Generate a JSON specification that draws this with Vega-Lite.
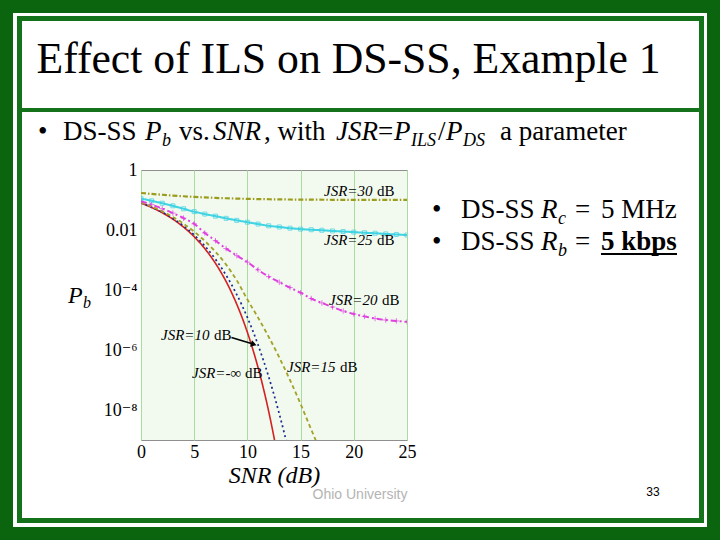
{
  "$schema": "https://vega.github.io/schema/vega-lite/v6.json",
  "width": 266,
  "height": 270,
  "autosize": {"type": "none"},
  "padding": {"left": 141, "top": 170, "right": 313, "bottom": 100},
  "background": "white",
  "config": {
    "view": {"fill": "#f2faf0", "stroke": "#8f8f8f", "strokeWidth": 1},
    "text": {"font": "Liberation Serif", "color": "black", "baseline": "alphabetic", "align": "left"}
  },
  "datasets": {
    "curves": [
      {"jsr": "-inf", "snr": 0, "pb": 0.0786}, {"jsr": "-inf", "snr": 1, "pb": 0.0563}, {"jsr": "-inf", "snr": 2, "pb": 0.0375}, {"jsr": "-inf", "snr": 3, "pb": 0.0229}, {"jsr": "-inf", "snr": 4, "pb": 0.0125}, {"jsr": "-inf", "snr": 5, "pb": 0.00595}, {"jsr": "-inf", "snr": 6, "pb": 0.00239}, {"jsr": "-inf", "snr": 7, "pb": 0.000773}, {"jsr": "-inf", "snr": 8, "pb": 0.000191}, {"jsr": "-inf", "snr": 8.5, "pb": 0.000084}, {"jsr": "-inf", "snr": 9, "pb": 0.0000336}, {"jsr": "-inf", "snr": 9.5, "pb": 0.0000121}, {"jsr": "-inf", "snr": 10, "pb": 0.00000387}, {"jsr": "-inf", "snr": 10.5, "pb": 0.00000108}, {"jsr": "-inf", "snr": 11, "pb": 2.61e-7}, {"jsr": "-inf", "snr": 11.5, "pb": 5.33e-8}, {"jsr": "-inf", "snr": 12, "pb": 9.0e-9}, {"jsr": "-inf", "snr": 12.5, "pb": 1.23e-9}, {"jsr": "-inf", "snr": 13, "pb": 1.34e-10},
      {"jsr": "10", "snr": 0, "pb": 0.0799}, {"jsr": "10", "snr": 1, "pb": 0.0577}, {"jsr": "10", "snr": 2, "pb": 0.0389}, {"jsr": "10", "snr": 3, "pb": 0.0242}, {"jsr": "10", "snr": 4, "pb": 0.01363}, {"jsr": "10", "snr": 5, "pb": 0.0068}, {"jsr": "10", "snr": 6, "pb": 0.00293}, {"jsr": "10", "snr": 7, "pb": 0.00106}, {"jsr": "10", "snr": 8, "pb": 0.00031}, {"jsr": "10", "snr": 8.5, "pb": 0.000153}, {"jsr": "10", "snr": 9, "pb": 0.0000707}, {"jsr": "10", "snr": 9.5, "pb": 0.0000304}, {"jsr": "10", "snr": 10, "pb": 0.0000121}, {"jsr": "10", "snr": 10.5, "pb": 0.00000444}, {"jsr": "10", "snr": 11, "pb": 0.00000149}, {"jsr": "10", "snr": 11.5, "pb": 4.57e-7}, {"jsr": "10", "snr": 12, "pb": 1.28e-7}, {"jsr": "10", "snr": 12.5, "pb": 3.22e-8}, {"jsr": "10", "snr": 13, "pb": 7.36e-9}, {"jsr": "10", "snr": 13.5, "pb": 1.51e-9}, {"jsr": "10", "snr": 14, "pb": 2.8e-10},
      {"jsr": "15", "snr": 0, "pb": 0.0826}, {"jsr": "15", "snr": 1, "pb": 0.0606}, {"jsr": "15", "snr": 2, "pb": 0.042}, {"jsr": "15", "snr": 3, "pb": 0.0271}, {"jsr": "15", "snr": 4, "pb": 0.0162}, {"jsr": "15", "snr": 5, "pb": 0.0088}, {"jsr": "15", "snr": 6, "pb": 0.0043}, {"jsr": "15", "snr": 7, "pb": 0.00188}, {"jsr": "15", "snr": 8, "pb": 0.0007}, {"jsr": "15", "snr": 9, "pb": 0.00021}, {"jsr": "15", "snr": 10, "pb": 0.000048}, {"jsr": "15", "snr": 11, "pb": 0.000012}, {"jsr": "15", "snr": 12, "pb": 0.00000275}, {"jsr": "15", "snr": 13, "pb": 5.6e-7}, {"jsr": "15", "snr": 14, "pb": 1.0e-7}, {"jsr": "15", "snr": 15, "pb": 1.58e-8}, {"jsr": "15", "snr": 16, "pb": 2.24e-9}, {"jsr": "15", "snr": 17, "pb": 3.16e-10},
      {"jsr": "20", "snr": 0, "pb": 0.0909}, {"jsr": "20", "snr": 1, "pb": 0.0698}, {"jsr": "20", "snr": 2, "pb": 0.0516}, {"jsr": "20", "snr": 3, "pb": 0.0366}, {"jsr": "20", "snr": 4, "pb": 0.0249}, {"jsr": "20", "snr": 5, "pb": 0.016}, {"jsr": "20", "snr": 6, "pb": 0.008}, {"jsr": "20", "snr": 7, "pb": 0.0044}, {"jsr": "20", "snr": 8, "pb": 0.0024}, {"jsr": "20", "snr": 9, "pb": 0.0014}, {"jsr": "20", "snr": 10, "pb": 0.00085}, {"jsr": "20", "snr": 11, "pb": 0.00047}, {"jsr": "20", "snr": 12, "pb": 0.00028}, {"jsr": "20", "snr": 13, "pb": 0.000182}, {"jsr": "20", "snr": 14, "pb": 0.00012}, {"jsr": "20", "snr": 15, "pb": 0.000081}, {"jsr": "20", "snr": 16, "pb": 0.000052}, {"jsr": "20", "snr": 17, "pb": 0.000037}, {"jsr": "20", "snr": 18, "pb": 0.000027}, {"jsr": "20", "snr": 19, "pb": 0.00002}, {"jsr": "20", "snr": 20, "pb": 0.0000158}, {"jsr": "20", "snr": 21, "pb": 0.0000132}, {"jsr": "20", "snr": 22, "pb": 0.0000112}, {"jsr": "20", "snr": 23, "pb": 0.00001}, {"jsr": "20", "snr": 24, "pb": 0.0000093}, {"jsr": "20", "snr": 25, "pb": 0.0000087},
      {"jsr": "25", "snr": 0, "pb": 0.112}, {"jsr": "25", "snr": 1, "pb": 0.094}, {"jsr": "25", "snr": 2, "pb": 0.078}, {"jsr": "25", "snr": 3, "pb": 0.064}, {"jsr": "25", "snr": 4, "pb": 0.051}, {"jsr": "25", "snr": 5, "pb": 0.041}, {"jsr": "25", "snr": 6, "pb": 0.034}, {"jsr": "25", "snr": 7, "pb": 0.029}, {"jsr": "25", "snr": 8, "pb": 0.0245}, {"jsr": "25", "snr": 9, "pb": 0.021}, {"jsr": "25", "snr": 10, "pb": 0.0182}, {"jsr": "25", "snr": 11, "pb": 0.0158}, {"jsr": "25", "snr": 12, "pb": 0.0138}, {"jsr": "25", "snr": 13, "pb": 0.0126}, {"jsr": "25", "snr": 14, "pb": 0.0115}, {"jsr": "25", "snr": 15, "pb": 0.0107}, {"jsr": "25", "snr": 16, "pb": 0.0102}, {"jsr": "25", "snr": 17, "pb": 0.0098}, {"jsr": "25", "snr": 18, "pb": 0.0093}, {"jsr": "25", "snr": 19, "pb": 0.0089}, {"jsr": "25", "snr": 20, "pb": 0.0085}, {"jsr": "25", "snr": 21, "pb": 0.0081}, {"jsr": "25", "snr": 22, "pb": 0.0078}, {"jsr": "25", "snr": 23, "pb": 0.0074}, {"jsr": "25", "snr": 24, "pb": 0.0071}, {"jsr": "25", "snr": 25, "pb": 0.0068},
      {"jsr": "30", "snr": 0, "pb": 0.171}, {"jsr": "30", "snr": 1, "pb": 0.1595}, {"jsr": "30", "snr": 2, "pb": 0.1494}, {"jsr": "30", "snr": 3, "pb": 0.1405}, {"jsr": "30", "snr": 4, "pb": 0.1331}, {"jsr": "30", "snr": 5, "pb": 0.1269}, {"jsr": "30", "snr": 6, "pb": 0.1218}, {"jsr": "30", "snr": 7, "pb": 0.1176}, {"jsr": "30", "snr": 8, "pb": 0.1142}, {"jsr": "30", "snr": 9, "pb": 0.1114}, {"jsr": "30", "snr": 10, "pb": 0.1092}, {"jsr": "30", "snr": 12, "pb": 0.1059}, {"jsr": "30", "snr": 14, "pb": 0.1038}, {"jsr": "30", "snr": 16, "pb": 0.1025}, {"jsr": "30", "snr": 18, "pb": 0.1017}, {"jsr": "30", "snr": 20, "pb": 0.1012}, {"jsr": "30", "snr": 22, "pb": 0.1008}, {"jsr": "30", "snr": 25, "pb": 0.1004}
    ]
  },
  "layer": [
    {
      "data": {"values": [{"part": "slide border"}]},
      "mark": {"type": "rect", "fill": "transparent", "stroke": "#0b650f", "strokeWidth": 26},
      "encoding": {
        "x": {"datum": -13.252, "type": "quantitative"}, "x2": {"datum": 54.417},
        "y": {"datum": 464159, "type": "quantitative"}, "y2": {"datum": 4.642e-13}
      }
    },
    {
      "data": {"values": [{"part": "panel border"}]},
      "mark": {"type": "rect", "fill": "transparent", "stroke": "#14731a", "strokeWidth": 5},
      "encoding": {
        "x": {"datum": -11.419, "type": "quantitative"}, "x2": {"datum": 52.68},
        "y": {"datum": 112202, "type": "quantitative"}, "y2": {"datum": 2.074e-12}
      }
    },
    {
      "data": {"values": [{"part": "title separator"}]},
      "mark": {"type": "rule", "stroke": "#14731a", "strokeWidth": 4},
      "encoding": {
        "x": {"datum": -11.184, "type": "quantitative"}, "x2": {"datum": 52.44},
        "y": {"datum": 100, "type": "quantitative"}
      }
    },
    {
      "data": {"name": "curves"},
      "mark": {"type": "line", "clip": true, "interpolate": "monotone"},
      "encoding": {
        "x": {
          "field": "snr", "type": "quantitative",
          "scale": {"domain": [0, 25], "nice": false, "zero": false},
          "axis": {
            "values": [0, 5, 10, 15, 20, 25], "grid": true, "gridColor": "#a8dda0", "domain": false, "ticks": false,
            "labelFont": "Liberation Serif", "labelFontSize": 18, "labelColor": "black", "labelPadding": 3, "labelFlush": false,
            "title": "SNR (dB)", "titleFont": "Liberation Serif", "titleFontSize": 24, "titleFontStyle": "italic",
            "titleFontWeight": "normal", "titleColor": "black", "titlePadding": 2
          }
        },
        "y": {
          "field": "pb", "type": "quantitative",
          "scale": {"type": "log", "domain": [1e-9, 1], "nice": false},
          "axis": {
            "title": null, "domain": false, "ticks": false, "labelOverlap": false, "labelFlush": false,
            "labelFont": "Liberation Serif, DejaVu Serif", "labelFontSize": 18, "labelColor": "black", "labelPadding": 4,
            "values": [1e-9, 2e-9, 3e-9, 4e-9, 5e-9, 6e-9, 7e-9, 8e-9, 9e-9, 1e-8, 2e-8, 3e-8, 4e-8, 5e-8, 6e-8, 7e-8, 8e-8, 9e-8, 1e-7, 2e-7, 3e-7, 4e-7, 5e-7, 6e-7, 7e-7, 8e-7, 9e-7, 1e-6, 2e-6, 3e-6, 4e-6, 5e-6, 6e-6, 7e-6, 8e-6, 9e-6, 1e-5, 2e-5, 3e-5, 4e-5, 5e-5, 6e-5, 7e-5, 8e-5, 9e-5, 1e-4, 2e-4, 3e-4, 4e-4, 5e-4, 6e-4, 7e-4, 8e-4, 9e-4, 0.001, 0.002, 0.003, 0.004, 0.005, 0.006, 0.007, 0.008, 0.009, 0.01, 0.02, 0.03, 0.04, 0.05, 0.06, 0.07, 0.08, 0.09, 0.1, 0.2, 0.3, 0.4, 0.5, 0.6, 0.7, 0.8, 0.9, 1],
            "labelExpr": "datum.value == 1 ? '1' : datum.value == 0.01 ? '0.01' : datum.value == 0.0001 ? '10⁻⁴' : datum.value == 0.000001 ? '10⁻⁶' : datum.value == 0.00000001 ? '10⁻⁸' : ''",
            "gridColor": {"condition": {"test": "datum.value == 1 || datum.value == 0.1 || datum.value == 0.01 || datum.value == 0.001 || datum.value == 0.0001 || datum.value == 0.00001 || datum.value == 0.000001 || datum.value == 0.0000001 || datum.value == 0.00000001 || datum.value == 0.000000001", "value": "#5c5c5c"}, "value": "#b3e2ab"}
          }
        },
        "color": {"field": "jsr", "type": "nominal", "legend": null,
          "scale": {"domain": ["-inf", "10", "15", "20", "25", "30"], "range": ["#d42020", "#1e2a8c", "#a3a32a", "#e040e0", "#40d4e4", "#9c9c1c"]}},
        "strokeDash": {"field": "jsr", "type": "nominal", "legend": null,
          "scale": {"domain": ["-inf", "10", "15", "20", "25", "30"], "range": [[1, 0], [2, 3], [4, 3], [6, 3, 2, 3], [1, 0], [5, 2, 1.5, 2]]}},
        "size": {"field": "jsr", "type": "ordinal", "legend": null,
          "scale": {"domain": ["-inf", "10", "15", "20", "25", "30"], "range": [1.6, 2.2, 1.4, 1.5, 2.2, 2.6]}}
      }
    },
    {
      "data": {"name": "curves"},
      "transform": [{"filter": "datum.jsr == '25'"}],
      "mark": {"type": "point", "shape": "square", "filled": false, "size": 16, "strokeWidth": 1, "color": "#3ccfe0", "clip": true},
      "encoding": {
        "x": {"field": "snr", "type": "quantitative"},
        "y": {"field": "pb", "type": "quantitative"}
      }
    },
    {
      "data": {"name": "curves"},
      "transform": [{"filter": "datum.jsr == '20'"}],
      "mark": {"type": "point", "shape": "M-1,0H1M0,-1V1", "filled": false, "size": 30, "strokeWidth": 1, "color": "#e040e0", "clip": true},
      "encoding": {
        "x": {"field": "snr", "type": "quantitative"},
        "y": {"field": "pb", "type": "quantitative"}
      }
    },
    {
      "data": {"values": [{"t": "JSR=30"}]},
      "mark": {"type": "text", "fontStyle": "italic", "fontSize": 15},
      "encoding": {"text": {"field": "t"}, "x": {"datum": 17.199, "type": "quantitative"}, "y": {"datum": 0.1359, "type": "quantitative"}}
    },
    {
      "data": {"values": [{"t": "JSR=25"}]},
      "mark": {"type": "text", "fontStyle": "italic", "fontSize": 15},
      "encoding": {"text": {"field": "t"}, "x": {"datum": 17.199, "type": "quantitative"}, "y": {"datum": 0.003162, "type": "quantitative"}}
    },
    {
      "data": {"values": [{"t": "JSR=20"}]},
      "mark": {"type": "text", "fontStyle": "italic", "fontSize": 15},
      "encoding": {"text": {"field": "t"}, "x": {"datum": 17.669, "type": "quantitative"}, "y": {"datum": 3.162e-5, "type": "quantitative"}}
    },
    {
      "data": {"values": [{"t": "JSR=10"}]},
      "mark": {"type": "text", "fontStyle": "italic", "fontSize": 15},
      "encoding": {"text": {"field": "t"}, "x": {"datum": 1.88, "type": "quantitative"}, "y": {"datum": 2.154e-6, "type": "quantitative"}}
    },
    {
      "data": {"values": [{"t": "JSR=-∞"}]},
      "mark": {"type": "text", "fontStyle": "italic", "fontSize": 15},
      "encoding": {"text": {"field": "t"}, "x": {"datum": 4.793, "type": "quantitative"}, "y": {"datum": 1.166e-7, "type": "quantitative"}}
    },
    {
      "data": {"values": [{"t": "JSR=15"}]},
      "mark": {"type": "text", "fontStyle": "italic", "fontSize": 15},
      "encoding": {"text": {"field": "t"}, "x": {"datum": 13.722, "type": "quantitative"}, "y": {"datum": 1.848e-7, "type": "quantitative"}}
    },
    {
      "data": {"values": [{"t": "dB"}]},
      "mark": {"type": "text", "fontSize": 15, "dx": 53},
      "encoding": {"text": {"field": "t"}, "x": {"datum": 17.199, "type": "quantitative"}, "y": {"datum": 0.1359, "type": "quantitative"}}
    },
    {
      "data": {"values": [{"t": "dB"}]},
      "mark": {"type": "text", "fontSize": 15, "dx": 53},
      "encoding": {"text": {"field": "t"}, "x": {"datum": 17.199, "type": "quantitative"}, "y": {"datum": 0.003162, "type": "quantitative"}}
    },
    {
      "data": {"values": [{"t": "dB"}]},
      "mark": {"type": "text", "fontSize": 15, "dx": 53},
      "encoding": {"text": {"field": "t"}, "x": {"datum": 17.669, "type": "quantitative"}, "y": {"datum": 3.162e-5, "type": "quantitative"}}
    },
    {
      "data": {"values": [{"t": "dB"}]},
      "mark": {"type": "text", "fontSize": 15, "dx": 53},
      "encoding": {"text": {"field": "t"}, "x": {"datum": 1.88, "type": "quantitative"}, "y": {"datum": 2.154e-6, "type": "quantitative"}}
    },
    {
      "data": {"values": [{"t": "dB"}]},
      "mark": {"type": "text", "fontSize": 15, "dx": 53},
      "encoding": {"text": {"field": "t"}, "x": {"datum": 4.793, "type": "quantitative"}, "y": {"datum": 1.166e-7, "type": "quantitative"}}
    },
    {
      "data": {"values": [{"t": "dB"}]},
      "mark": {"type": "text", "fontSize": 15, "dx": 53},
      "encoding": {"text": {"field": "t"}, "x": {"datum": 13.722, "type": "quantitative"}, "y": {"datum": 1.848e-7, "type": "quantitative"}}
    },
    {
      "data": {"values": [{"part": "arrow"}]},
      "mark": {"type": "rule", "color": "black", "strokeWidth": 1.5},
      "encoding": {
        "x": {"datum": 8.5, "type": "quantitative"}, "x2": {"datum": 10.6},
        "y": {"datum": 2.62e-6, "type": "quantitative"}, "y2": {"datum": 1.55e-6}
      }
    },
    {
      "data": {"values": [{"part": "arrowhead"}]},
      "mark": {"type": "point", "shape": "triangle-right", "filled": true, "color": "black", "size": 45, "angle": 17, "opacity": 1},
      "encoding": {"x": {"datum": 10.6, "type": "quantitative"}, "y": {"datum": 1.55e-6, "type": "quantitative"}}
    },
    {
      "data": {"values": [{"t": "P"}]},
      "mark": {"type": "text", "fontStyle": "italic", "fontSize": 24},
      "encoding": {"text": {"field": "t"}, "x": {"datum": -6.861, "type": "quantitative"}, "y": {"datum": 3.69e-5, "type": "quantitative"}}
    },
    {
      "data": {"values": [{"t": "b"}]},
      "mark": {"type": "text", "fontStyle": "italic", "fontSize": 16},
      "encoding": {"text": {"field": "t"}, "x": {"datum": -5.451, "type": "quantitative"}, "y": {"datum": 2.51e-5, "type": "quantitative"}}
    },
    {
      "data": {"values": [{"t": "Effect of ILS on DS-SS, Example 1"}]},
      "mark": {"type": "text", "fontSize": 43.7, "align": "center"},
      "encoding": {"text": {"field": "t"}, "x": {"datum": 19.502, "type": "quantitative"}, "y": {"datum": 1711, "type": "quantitative"}}
    },
    {
      "data": {"values": [{"t": "•"}]},
      "mark": {"type": "text", "fontSize": 27},
      "encoding": {"text": {"field": "t"}, "x": {"datum": -9.68, "type": "quantitative"}, "y": {"datum": 10, "type": "quantitative"}}
    },
    {
      "data": {"values": [{"t": "DS-SS"}]},
      "mark": {"type": "text", "fontSize": 27},
      "encoding": {"text": {"field": "t"}, "x": {"datum": -7.331, "type": "quantitative"}, "y": {"datum": 10, "type": "quantitative"}}
    },
    {
      "data": {"values": [{"t": "P"}]},
      "mark": {"type": "text", "fontStyle": "italic", "fontSize": 27},
      "encoding": {"text": {"field": "t"}, "x": {"datum": 0.376, "type": "quantitative"}, "y": {"datum": 10, "type": "quantitative"}}
    },
    {
      "data": {"values": [{"t": "b"}]},
      "mark": {"type": "text", "fontStyle": "italic", "fontSize": 18},
      "encoding": {"text": {"field": "t"}, "x": {"datum": 1.974, "type": "quantitative"}, "y": {"datum": 6.31, "type": "quantitative"}}
    },
    {
      "data": {"values": [{"t": "vs."}]},
      "mark": {"type": "text", "fontSize": 27},
      "encoding": {"text": {"field": "t"}, "x": {"datum": 3.571, "type": "quantitative"}, "y": {"datum": 10, "type": "quantitative"}}
    },
    {
      "data": {"values": [{"t": "SNR"}]},
      "mark": {"type": "text", "fontStyle": "italic", "fontSize": 27},
      "encoding": {"text": {"field": "t"}, "x": {"datum": 6.767, "type": "quantitative"}, "y": {"datum": 10, "type": "quantitative"}}
    },
    {
      "data": {"values": [{"t": ", with"}]},
      "mark": {"type": "text", "fontSize": 27},
      "encoding": {"text": {"field": "t"}, "x": {"datum": 11.56, "type": "quantitative"}, "y": {"datum": 10, "type": "quantitative"}}
    },
    {
      "data": {"values": [{"t": "JSR"}]},
      "mark": {"type": "text", "fontStyle": "italic", "fontSize": 27},
      "encoding": {"text": {"field": "t"}, "x": {"datum": 18.327, "type": "quantitative"}, "y": {"datum": 10, "type": "quantitative"}}
    },
    {
      "data": {"values": [{"t": "="}]},
      "mark": {"type": "text", "fontSize": 27},
      "encoding": {"text": {"field": "t"}, "x": {"datum": 22.274, "type": "quantitative"}, "y": {"datum": 10, "type": "quantitative"}}
    },
    {
      "data": {"values": [{"t": "P"}]},
      "mark": {"type": "text", "fontStyle": "italic", "fontSize": 27},
      "encoding": {"text": {"field": "t"}, "x": {"datum": 23.778, "type": "quantitative"}, "y": {"datum": 10, "type": "quantitative"}}
    },
    {
      "data": {"values": [{"t": "ILS"}]},
      "mark": {"type": "text", "fontStyle": "italic", "fontSize": 18},
      "encoding": {"text": {"field": "t"}, "x": {"datum": 25.376, "type": "quantitative"}, "y": {"datum": 6.31, "type": "quantitative"}}
    },
    {
      "data": {"values": [{"t": "/"}]},
      "mark": {"type": "text", "fontSize": 27},
      "encoding": {"text": {"field": "t"}, "x": {"datum": 27.914, "type": "quantitative"}, "y": {"datum": 10, "type": "quantitative"}}
    },
    {
      "data": {"values": [{"t": "P"}]},
      "mark": {"type": "text", "fontStyle": "italic", "fontSize": 27},
      "encoding": {"text": {"field": "t"}, "x": {"datum": 28.665, "type": "quantitative"}, "y": {"datum": 10, "type": "quantitative"}}
    },
    {
      "data": {"values": [{"t": "DS"}]},
      "mark": {"type": "text", "fontStyle": "italic", "fontSize": 18},
      "encoding": {"text": {"field": "t"}, "x": {"datum": 30.263, "type": "quantitative"}, "y": {"datum": 6.31, "type": "quantitative"}}
    },
    {
      "data": {"values": [{"t": "a parameter"}]},
      "mark": {"type": "text", "fontSize": 27},
      "encoding": {"text": {"field": "t"}, "x": {"datum": 33.741, "type": "quantitative"}, "y": {"datum": 10, "type": "quantitative"}}
    },
    {
      "data": {"values": [{"t": "•"}]},
      "mark": {"type": "text", "fontSize": 27},
      "encoding": {"text": {"field": "t"}, "x": {"datum": 27.35, "type": "quantitative"}, "y": {"datum": 0.02512, "type": "quantitative"}}
    },
    {
      "data": {"values": [{"t": "DS-SS"}]},
      "mark": {"type": "text", "fontSize": 27},
      "encoding": {"text": {"field": "t"}, "x": {"datum": 30.075, "type": "quantitative"}, "y": {"datum": 0.02512, "type": "quantitative"}}
    },
    {
      "data": {"values": [{"t": "R"}]},
      "mark": {"type": "text", "fontStyle": "italic", "fontSize": 27},
      "encoding": {"text": {"field": "t"}, "x": {"datum": 37.594, "type": "quantitative"}, "y": {"datum": 0.02512, "type": "quantitative"}}
    },
    {
      "data": {"values": [{"t": "c"}]},
      "mark": {"type": "text", "fontStyle": "italic", "fontSize": 18},
      "encoding": {"text": {"field": "t"}, "x": {"datum": 39.19, "type": "quantitative"}, "y": {"datum": 0.01585, "type": "quantitative"}}
    },
    {
      "data": {"values": [{"t": "="}]},
      "mark": {"type": "text", "fontSize": 27},
      "encoding": {"text": {"field": "t"}, "x": {"datum": 40.789, "type": "quantitative"}, "y": {"datum": 0.02512, "type": "quantitative"}}
    },
    {
      "data": {"values": [{"t": "5 MHz"}]},
      "mark": {"type": "text", "fontSize": 27},
      "encoding": {"text": {"field": "t"}, "x": {"datum": 43.233, "type": "quantitative"}, "y": {"datum": 0.02512, "type": "quantitative"}}
    },
    {
      "data": {"values": [{"t": "•"}]},
      "mark": {"type": "text", "fontSize": 27},
      "encoding": {"text": {"field": "t"}, "x": {"datum": 27.35, "type": "quantitative"}, "y": {"datum": 0.002154, "type": "quantitative"}}
    },
    {
      "data": {"values": [{"t": "DS-SS"}]},
      "mark": {"type": "text", "fontSize": 27},
      "encoding": {"text": {"field": "t"}, "x": {"datum": 30.075, "type": "quantitative"}, "y": {"datum": 0.002154, "type": "quantitative"}}
    },
    {
      "data": {"values": [{"t": "R"}]},
      "mark": {"type": "text", "fontStyle": "italic", "fontSize": 27},
      "encoding": {"text": {"field": "t"}, "x": {"datum": 37.594, "type": "quantitative"}, "y": {"datum": 0.002154, "type": "quantitative"}}
    },
    {
      "data": {"values": [{"t": "b"}]},
      "mark": {"type": "text", "fontStyle": "italic", "fontSize": 18},
      "encoding": {"text": {"field": "t"}, "x": {"datum": 39.19, "type": "quantitative"}, "y": {"datum": 0.001359, "type": "quantitative"}}
    },
    {
      "data": {"values": [{"t": "="}]},
      "mark": {"type": "text", "fontSize": 27},
      "encoding": {"text": {"field": "t"}, "x": {"datum": 40.789, "type": "quantitative"}, "y": {"datum": 0.002154, "type": "quantitative"}}
    },
    {
      "data": {"values": [{"t": "5 kbps"}]},
      "mark": {"type": "text", "fontSize": 27, "fontWeight": "bold"},
      "encoding": {"text": {"field": "t"}, "x": {"datum": 43.233, "type": "quantitative"}, "y": {"datum": 0.002154, "type": "quantitative"}}
    },
    {
      "data": {"values": [{"part": "underline"}]},
      "mark": {"type": "rule", "color": "black", "strokeWidth": 2},
      "encoding": {"x": {"datum": 43.233, "type": "quantitative"}, "x2": {"datum": 50.376}, "y": {"datum": 0.001585, "type": "quantitative"}}
    },
    {
      "data": {"values": [{"t": "Ohio University"}]},
      "mark": {"type": "text", "font": "Liberation Sans", "fontSize": 14, "align": "center", "color": "#b4b4b4"},
      "encoding": {"text": {"field": "t"}, "x": {"datum": 20.583, "type": "quantitative"}, "y": {"datum": 1.08e-11, "type": "quantitative"}}
    },
    {
      "data": {"values": [{"t": "33"}]},
      "mark": {"type": "text", "font": "Liberation Sans", "fontSize": 12, "align": "center"},
      "encoding": {"text": {"field": "t"}, "x": {"datum": 48.12, "type": "quantitative"}, "y": {"datum": 1.36e-11, "type": "quantitative"}}
    }
  ]
}
